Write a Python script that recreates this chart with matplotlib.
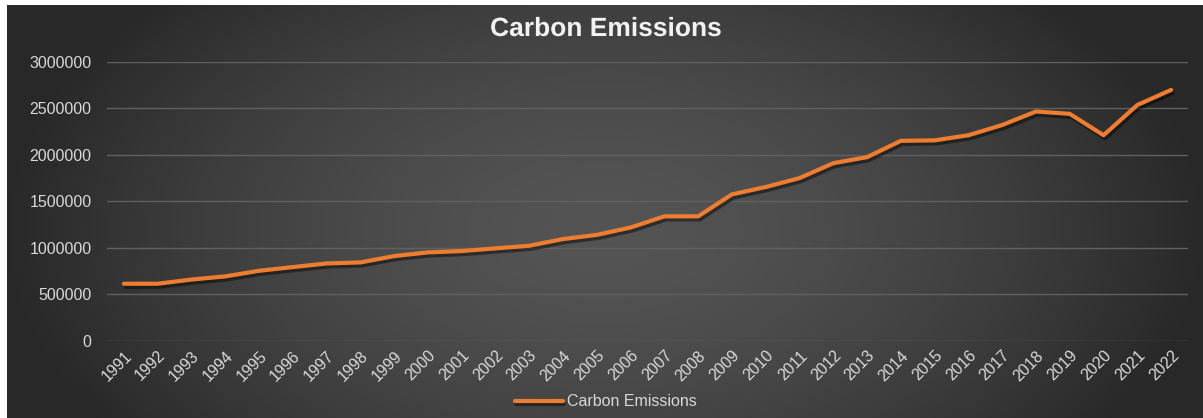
import numpy as np
import matplotlib
matplotlib.use("Agg")
import matplotlib.pyplot as plt
import matplotlib.patheffects as pe

plt.rcParams['font.family'] = ['Liberation Sans', 'DejaVu Sans']

# data
years = ['1991', '1992', '1993', '1994', '1995', '1996', '1997', '1998',
         '1999', '2000', '2001', '2002', '2003', '2004', '2005', '2006',
         '2007', '2008', '2009', '2010', '2011', '2012', '2013', '2014',
         '2015', '2016', '2017', '2018', '2019', '2020', '2021', '2022']
emissions = [615000, 615000, 660000, 694000, 754000, 794000, 833000, 844000,
             912000, 952000, 966000, 995000, 1023000, 1095000, 1140000, 1219000,
             1339000, 1339000, 1575000, 1654000, 1750000, 1910000, 1975000, 2150000,
             2155000, 2210000, 2320000, 2465000, 2440000, 2210000, 2535000, 2697000]
y_ticks = [0, 500000, 1000000, 1500000, 2000000, 2500000, 3000000]

W, H = 1203, 418
fig = plt.figure(figsize=(W / 100, H / 100), dpi=100, facecolor='white')

# dark radial background (white strip left and top like the screenshot)
bg = fig.add_axes([7 / W, 0, (W - 7) / W, (H - 5) / H])
bg.set_axis_off()
gx, gy = np.meshgrid(np.linspace(-1, 1, 600), np.linspace(-1, 1, 210))
r = np.sqrt(((gx - 0.0) / 1.0) ** 2 + ((gy - 0.1) / 1.7) ** 2)
r = np.clip(r, 0, 1)
shade = 0.33 - 0.17 * r ** 1.6
bg.imshow(np.dstack([shade, shade, shade]), aspect='auto', extent=[0, 1, 0, 1],
          interpolation='bicubic')
bg.set_xlim(0, 1)
bg.set_ylim(0, 1)

ax = fig.add_axes([107 / W, (H - 341) / H, (1188 - 107) / W, (341 - 61.7) / H])
ax.patch.set_alpha(0)

x = np.arange(len(years))
ax.plot(x, emissions, color='#ED7D31', lw=3.0, solid_joinstyle='round',
        solid_capstyle='round', label='Carbon Emissions',
        path_effects=[pe.SimpleLineShadow(offset=(1.2, -2.2), shadow_color='black', alpha=0.45),
                      pe.Normal()])

ax.set_xlim(-0.5, len(years) - 0.5)
ax.set_ylim(0, 3000000)
ax.set_yticks(y_ticks)
ax.set_yticklabels([str(v) for v in y_ticks])
ax.set_xticks(x)
ax.set_xticklabels(years, rotation=45, ha='right', va='top', rotation_mode='anchor')

ax.grid(axis='y', color='#616161', lw=1.0)
ax.set_axisbelow(True)
for s in ax.spines.values():
    s.set_visible(False)
ax.tick_params(axis='both', length=0, colors='#D9D9D9', labelsize=11.5)
ax.tick_params(axis='y', pad=11)
ax.tick_params(axis='x', pad=5)

fig.text(606 / W, 1 - 29 / H, 'Carbon Emissions', ha='center', va='center',
         fontsize=19, fontweight='bold', color='#F2F2F2',
         path_effects=[pe.withSimplePatchShadow(offset=(1, -1), alpha=0.4)])

leg = fig.legend(loc='center', bbox_to_anchor=(606 / W, 1 - 402 / H), frameon=False,
                 fontsize=11.5, handlelength=3.0, handletextpad=0.3)
for t in leg.get_texts():
    t.set_color('#D9D9D9')

fig.savefig('out.png', dpi=100, facecolor='white')
